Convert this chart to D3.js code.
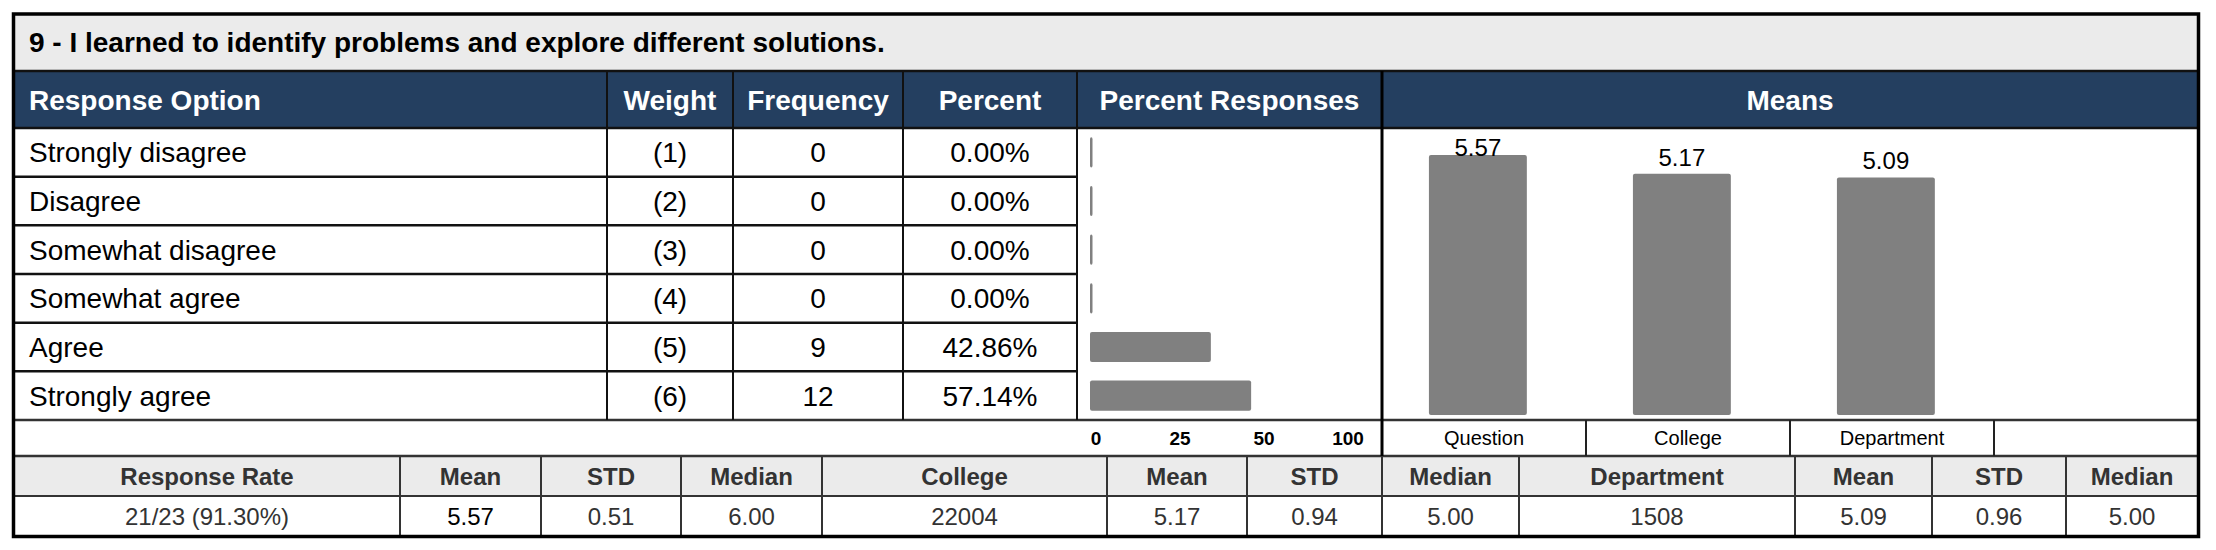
<!DOCTYPE html>
<html>
<head>
<meta charset="utf-8">
<script src="https://cdn.jsdelivr.net/npm/d3@7"></script>
<style>
  body { margin: 0; background: #fff; }
  svg { display: block; font-family: "Liberation Sans", Arial, sans-serif; }
</style>
</head>
<body>
<script>
// data
const title = "9 - I learned to identify problems and explore different solutions.";
const options = ["Strongly disagree", "Disagree", "Somewhat disagree", "Somewhat agree", "Agree", "Strongly agree"];
const weights = [1, 2, 3, 4, 5, 6];
const frequencies = [0, 0, 0, 0, 9, 12];
const percents = [0, 0, 0, 0, 42.86, 57.14];
const prTicks = ["0", "25", "50", "100"];
const meanCats = ["Question", "College", "Department"];
const meanVals = [5.57, 5.17, 5.09];
const statHeaders = ["Response Rate", "Mean", "STD", "Median", "College", "Mean", "STD", "Median", "Department", "Mean", "STD", "Median"];
const statValues = ["21/23 (91.30%)", "5.57", "0.51", "6.00", "22004", "5.17", "0.94", "5.00", "1508", "5.09", "0.96", "5.00"];

const width = 2216, height = 550;
const navy = "#243f60", light = "#ebebeb", barGray = "#808080";

// layout
const L = 14, R = 2198;
const yTitle = [15, 71], yHead = [71, 128], yBody = [128, 420], yAxis = [420, 456], yStatH = [456, 496], yStatV = [496, 536];
const colEdges = [L, 607, 733, 903, 1077, 1382, R];
const statEdges = [L, 400, 541, 681, 822, 1107, 1247, 1382, 1519, 1795, 1932, 2066, R];

const svg = d3.select("body").append("svg")
    .attr("width", width)
    .attr("height", height)
    .attr("viewBox", [0, 0, width, height]);

// backgrounds
svg.append("rect").attr("x", L).attr("y", yTitle[0]).attr("width", R - L).attr("height", yTitle[1] - yTitle[0]).attr("fill", light);
svg.append("rect").attr("x", L).attr("y", yHead[0]).attr("width", R - L).attr("height", yHead[1] - yHead[0]).attr("fill", navy);
svg.append("rect").attr("x", L).attr("y", yStatH[0]).attr("width", R - L).attr("height", yStatH[1] - yStatH[0]).attr("fill", light);

// title + header
svg.append("text")
    .attr("x", 29).attr("y", 52)
    .attr("font-size", 28).attr("font-weight", "bold")
    .text(title);

const headers = ["Response Option", "Weight", "Frequency", "Percent", "Percent Responses", "Means"];
svg.append("g")
  .selectAll("text")
  .data(headers)
  .join("text")
    .attr("x", (d, i) => i === 0 ? 29 : (colEdges[i] + colEdges[i + 1]) / 2)
    .attr("y", (yHead[0] + yHead[1]) / 2 + 10)
    .attr("text-anchor", (d, i) => i === 0 ? "start" : "middle")
    .attr("font-size", 28).attr("font-weight", "bold")
    .attr("fill", "#fff")
    .text(d => d);

// response rows
const y = d3.scaleBand().domain(options).range(yBody);
const rows = options.map((o, i) => ({option: o, weight: weights[i], freq: frequencies[i], pct: percents[i]}));

const rowText = svg.append("g").attr("font-size", 28);
const cells = [
  {x: 29, anchor: "start", f: d => d.option},
  {x: (colEdges[1] + colEdges[2]) / 2, anchor: "middle", f: d => `(${d.weight})`},
  {x: (colEdges[2] + colEdges[3]) / 2, anchor: "middle", f: d => d.freq},
  {x: (colEdges[3] + colEdges[4]) / 2, anchor: "middle", f: d => d.pct.toFixed(2) + "%"}
];
cells.forEach(c => {
  rowText.append("g")
    .selectAll("text")
    .data(rows)
    .join("text")
      .attr("x", c.x)
      .attr("y", d => y(d.option) + y.bandwidth() / 2 + 10)
      .attr("text-anchor", c.anchor)
      .text(c.f);
});

// percent responses bars
const xp = d3.scaleLinear().domain([0, 100]).range([1090, 1372]);
const yb = d3.scaleBand().domain(options).range(yBody).paddingInner(0.38).paddingOuter(0.19);

svg.append("g")
    .attr("fill", barGray)
  .selectAll("rect")
  .data(rows)
  .join("rect")
    .attr("x", xp(0))
    .attr("y", d => yb(d.option))
    .attr("width", d => Math.max(xp(d.pct) - xp(0), 2.5))
    .attr("height", yb.bandwidth())
    .attr("rx", 2);

const xt = d3.scalePoint().domain(prTicks).range([1096, 1348]);
svg.append("g")
  .selectAll("text")
  .data(prTicks)
  .join("text")
    .attr("x", d => xt(d))
    .attr("y", (yAxis[0] + yAxis[1]) / 2 + 7)
    .attr("text-anchor", "middle")
    .attr("font-size", 19).attr("font-weight", "bold")
    .text(d => d);

// means chart
const xm = d3.scaleBand().domain([...meanCats, ""]).range([1382, R]);
const ym = d3.scaleLinear().domain([0, 6]).range([415, 135]);
const means = meanCats.map((c, i) => ({cat: c, v: meanVals[i]}));

svg.append("g")
    .attr("fill", barGray)
  .selectAll("rect")
  .data(means)
  .join("rect")
    .attr("x", d => xm(d.cat) + xm.bandwidth() * 0.23)
    .attr("y", d => ym(d.v))
    .attr("width", xm.bandwidth() * 0.48)
    .attr("height", d => ym(0) - ym(d.v))
    .attr("rx", 2);

svg.append("g")
  .selectAll("text")
  .data(means)
  .join("text")
    .attr("x", d => xm(d.cat) + xm.bandwidth() * 0.47)
    .attr("y", d => Math.max(ym(d.v) - 8, 156))
    .attr("text-anchor", "middle")
    .attr("font-size", 24)
    .text(d => d.v.toFixed(2));

svg.append("g")
  .selectAll("text")
  .data(meanCats)
  .join("text")
    .attr("x", d => xm(d) + xm.bandwidth() / 2)
    .attr("y", (yAxis[0] + yAxis[1]) / 2 + 7)
    .attr("text-anchor", "middle")
    .attr("font-size", 20)
    .text(d => d);

// stats table
const statG = svg.append("g").attr("text-anchor", "middle").attr("font-size", 24);
statG.selectAll("text.h")
  .data(statHeaders)
  .join("text")
    .attr("class", "h")
    .attr("x", (d, i) => (statEdges[i] + statEdges[i + 1]) / 2)
    .attr("y", (yStatH[0] + yStatH[1]) / 2 + 8.5)
    .attr("font-weight", "bold")
    .attr("fill", "#333")
    .text(d => d);
statG.selectAll("text.v")
  .data(statValues)
  .join("text")
    .attr("class", "v")
    .attr("x", (d, i) => (statEdges[i] + statEdges[i + 1]) / 2)
    .attr("y", (yStatV[0] + yStatV[1]) / 2 + 8.5)
    .attr("fill", (d, i) => i === 1 ? "#000" : "#333")
    .text(d => d);

// grid lines
const lines = svg.append("g").attr("fill", "none");
const hline = (y0, x0, x1, w, c) => lines.append("line").attr("x1", x0).attr("x2", x1).attr("y1", y0).attr("y2", y0).attr("stroke", c).attr("stroke-width", w);
const vline = (x0, y0, y1, w, c) => lines.append("line").attr("x1", x0).attr("x2", x0).attr("y1", y0).attr("y2", y1).attr("stroke", c).attr("stroke-width", w);

hline(yHead[0], L, R, 2.5, "#111");
hline(yHead[1], L, R, 2.5, "#111");
options.slice(1).forEach(o => hline(y(o), L, colEdges[4], 2.5, "#111"));
hline(yAxis[0], L, R, 2.5, "#333");
hline(yStatH[0], L, R, 2.5, "#333");
hline(yStatH[1], L, R, 2, "#333");

colEdges.slice(1, 5).forEach(x => vline(x, yHead[0], yBody[1], 2, "#111"));
vline(colEdges[5], yHead[0], yAxis[1], 3, "#000");
meanCats.forEach(c => vline(xm(c) + xm.bandwidth(), yAxis[0], yAxis[1], 2, "#222"));
statEdges.slice(1, -1).forEach(x => vline(x, yStatH[0], yStatV[1], 2, "#333"));

// outer frame
svg.append("rect")
    .attr("x", L - 0.5).attr("y", yTitle[0] - 1)
    .attr("width", R - L + 1).attr("height", yStatV[1] - yTitle[0] + 1.5)
    .attr("fill", "none")
    .attr("stroke", "#000")
    .attr("stroke-width", 3.5);
</script>
</body>
</html>
